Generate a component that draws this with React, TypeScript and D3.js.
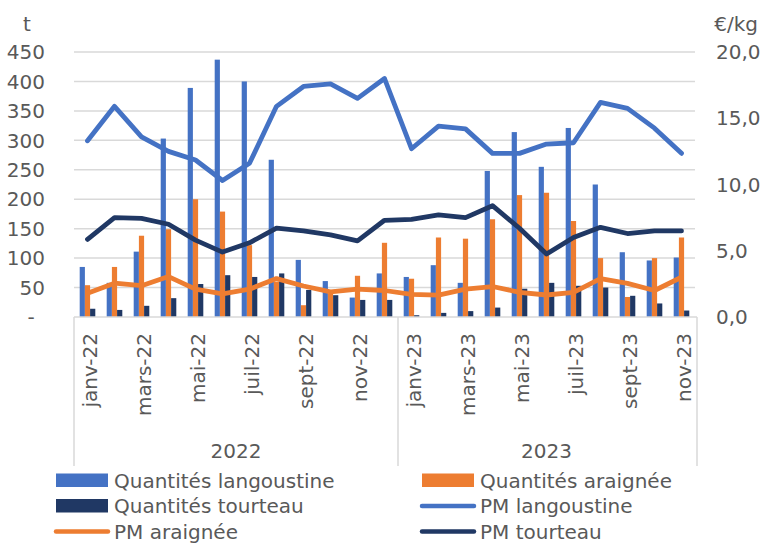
import React from 'react';
import * as d3 from 'd3';

const months = ['janv-22','févr-22','mars-22','avr-22','mai-22','juin-22','juil-22','août-22','sept-22','oct-22','nov-22','déc-22','janv-23','févr-23','mars-23','avr-23','mai-23','juin-23','juil-23','août-23','sept-23','oct-23','nov-23'];
const years = [{ label: '2022', from: 0, to: 12 }, { label: '2023', from: 12, to: 23 }];

const qLangoustine = [85,58,111,303,389,437,400,267,97,61,33,74,68,88,58,248,314,255,321,225,110,96,101];
const qAraignee = [54,85,138,149,200,179,122,60,20,40,70,126,65,135,133,166,207,211,163,100,34,100,135];
const qTourteau = [14,12,19,32,56,71,68,74,46,37,29,29,3,7,10,16,48,58,53,50,36,23,11];

const pmLangoustine = [13.3,15.9,13.6,12.5,11.85,10.3,11.6,15.9,17.4,17.6,16.5,18.0,12.7,14.4,14.2,12.35,12.35,13.05,13.15,16.2,15.75,14.25,12.35];
const pmAraignee = [1.8,2.55,2.36,3.05,2.1,1.74,2.1,2.9,2.34,1.9,2.1,2.0,1.7,1.65,2.1,2.3,1.86,1.66,1.86,2.9,2.54,2.0,3.0];
const pmTourteau = [5.86,7.5,7.45,7.0,5.8,4.9,5.6,6.7,6.5,6.2,5.75,7.3,7.37,7.7,7.5,8.4,6.7,4.75,6.0,6.77,6.3,6.5,6.5];

const leftTicks = [0,50,100,150,200,250,300,350,400,450];
const rightTicks = [0,5,10,15,20];

const BLUE = '#4472C4';
const ORANGE = '#ED7D31';
const NAVY = '#203864';
const GRID = '#D9D9D9';
const TEXT = '#595959';
const FONT = 'DejaVu Sans';

export default function App() {
  const W = 762, H = 544;
  const x0 = 74, x1 = 695, yTop = 52, yBot = 317;
  const x = d3.scaleBand<number>().domain(d3.range(months.length)).range([x0, x1]);
  const yL = d3.scaleLinear().domain([0, 450]).range([yBot, yTop]);
  const yR = d3.scaleLinear().domain([0, 20]).range([yBot, yTop]);
  const bw = 5.2;
  const cx = (i: number) => (x(i) as number) + x.bandwidth() / 2;

  const barSeries = [
    { data: qLangoustine, color: BLUE, off: -1 },
    { data: qAraignee, color: ORANGE, off: 0 },
    { data: qTourteau, color: NAVY, off: 1 },
  ];
  const lineSeries = [
    { data: pmLangoustine, color: BLUE },
    { data: pmAraignee, color: ORANGE },
    { data: pmTourteau, color: NAVY },
  ];
  const line = (arr: number[]) =>
    d3.line<number>().x((_, i) => cx(i)).y((d) => yR(d)).curve(d3.curveLinear)(arr) || '';

  const legend = [
    { label: 'Quantités langoustine', color: BLUE, kind: 'rect', col: 0, row: 0 },
    { label: 'Quantités araignée', color: ORANGE, kind: 'rect', col: 1, row: 0 },
    { label: 'Quantités tourteau', color: NAVY, kind: 'rect', col: 0, row: 1 },
    { label: 'PM langoustine', color: BLUE, kind: 'line', col: 1, row: 1 },
    { label: 'PM araignée', color: ORANGE, kind: 'line', col: 0, row: 2 },
    { label: 'PM tourteau', color: NAVY, kind: 'line', col: 1, row: 2 },
  ];
  const colX = [56, 422];

  return (
    <svg width={W} height={H} style={{ position: 'absolute', left: 0, top: 0, background: '#fff' }}
      fontFamily={FONT}>
      {leftTicks.slice(1).map((t) => (
        <line key={'g' + t} x1={x0} x2={x1} y1={yL(t)} y2={yL(t)} stroke={GRID} strokeWidth={1.5} />
      ))}
      {leftTicks.map((t) => (
        <text key={'l' + t} x={t === 0 ? 31 : 45} y={yL(t)} dy="0.36em" fontSize={20} fill={TEXT}
          textAnchor={t === 0 ? 'middle' : 'end'}>{t === 0 ? '-' : t}</text>
      ))}
      <text x={27} y={31} fontSize={20} fill={TEXT} textAnchor="middle">t</text>
      {rightTicks.map((t) => (
        <text key={'r' + t} x={716} y={yR(t)} dy="0.36em" fontSize={20} fill={TEXT}>
          {t.toFixed(1).replace('.', ',')}
        </text>
      ))}
      <text x={758} y={31} fontSize={20} fill={TEXT} textAnchor="end">€/kg</text>

      {barSeries.map((s, si) =>
        s.data.map((v, i) => (
          <rect key={`b${si}-${i}`} x={cx(i) + s.off * bw - bw / 2} y={yL(v)} width={bw}
            height={yBot - yL(v)} fill={s.color} />
        ))
      )}
      {lineSeries.map((s, si) => (
        <path key={'ln' + si} d={line(s.data)} fill="none" stroke={s.color} strokeWidth={4.8}
          strokeLinejoin="round" strokeLinecap="round" />
      ))}

      <line x1={x0} x2={x1 + 2} y1={yBot} y2={yBot} stroke={GRID} strokeWidth={1.5} />
      {[x0, (x(12) as number), x1 + 2].map((xx, k) => (
        <line key={'sep' + k} x1={xx} x2={xx} y1={yBot} y2={466} stroke={GRID} strokeWidth={1.5} />
      ))}
      {months.map((m, i) => (i % 2 === 0 ? (
        <text key={'m' + i} transform={`translate(${cx(i) + 9.5},${333}) rotate(-90)`} fontSize={20}
          fill={TEXT} textAnchor="end">{m}</text>
      ) : null))}
      {years.map((yr) => (
        <text key={yr.label} x={((x(yr.from) as number) + (yr.to >= months.length ? x1 : (x(yr.to) as number))) / 2}
          y={458} fontSize={20} fill={TEXT} textAnchor="middle">{yr.label}</text>
      ))}

      {legend.map((l, k) => {
        const lx = colX[l.col];
        const ly = 480.5 + l.row * 25.5;
        return (
          <g key={'lg' + k}>
            {l.kind === 'rect' ? (
              <rect x={lx} y={ly - 7} width={52} height={13.5} fill={l.color} />
            ) : (
              <line x1={lx} x2={lx + 52} y1={ly} y2={ly} stroke={l.color} strokeWidth={4.5} strokeLinecap="round" />
            )}
            <text x={lx + 58} y={ly} dy="0.36em" fontSize={20} fill={TEXT}>{l.label}</text>
          </g>
        );
      })}
    </svg>
  );
}
